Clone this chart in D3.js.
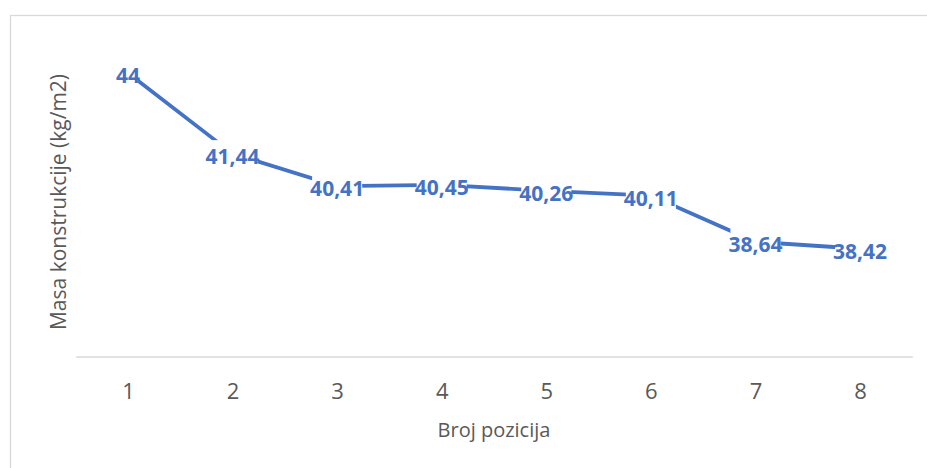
<!DOCTYPE html>
<html>
<head>
<meta charset="utf-8">
<script src="https://cdn.jsdelivr.net/npm/d3@7"></script>
<style>
  body { margin: 0; background: #fff; }
  svg { display: block; }
</style>
</head>
<body>
<svg id="chart"></svg>
<script>
// positions on the x axis
const categories = ["1", "2", "3", "4", "5", "6", "7", "8"];
// construction mass per position
const values = [44, 41.44, 40.41, 40.45, 40.26, 40.11, 38.64, 38.42];
const valueLabels = ["44", "41,44", "40,41", "40,45", "40,26", "40,11", "38,64", "38,42"];
const yDomain = [35, 45];

const width = 927, height = 468;
const plot = { left: 75.7, right: 912.3, top: 41.5, bottom: 356.5 };
const blue = "#4472C4", grey = "#595959", rule = "#D9D9D9";
const font = "'Open Sans', 'Noto Sans', sans-serif";

const svg = d3.select("#chart").attr("width", width).attr("height", height);

// outer chart border (runs off the right and bottom edges)
svg.append("rect")
  .attr("x", 10.5).attr("y", 15.5)
  .attr("width", 940).attr("height", 470)
  .attr("fill", "none").attr("stroke", rule).attr("stroke-width", 1.3);

const x = d3.scalePoint().domain(categories).range([plot.left, plot.right]).padding(0.5);
const y = d3.scaleLinear().domain(yDomain).range([plot.bottom, plot.top]);

// x axis: only the baseline and labels, no ticks
const xAxis = svg.append("g")
  .attr("transform", `translate(0, ${plot.bottom})`)
  .call(d3.axisBottom(x).tickSize(0).tickPadding(0));
xAxis.select(".domain").attr("stroke", rule).attr("stroke-width", 1.5);
xAxis.selectAll("text")
  .attr("dy", null)
  .attr("y", 42.5)
  .attr("fill", grey)
  .style("font-family", font)
  .style("font-size", "22px");

// axis titles
svg.append("text")
  .attr("x", (plot.left + plot.right) / 2)
  .attr("y", 437)
  .attr("text-anchor", "middle")
  .attr("fill", grey)
  .style("font-family", font)
  .style("font-size", "20px")
  .text("Broj pozicija");

svg.append("text")
  .attr("transform", `translate(66, ${(plot.top + plot.bottom) / 2 + 3}) rotate(-90)`)
  .attr("text-anchor", "middle")
  .attr("fill", grey)
  .style("font-family", font)
  .style("font-size", "21px")
  .text("Masa konstrukcije (kg/m2)");

// the series line
const line = d3.line()
  .x((d, i) => x(categories[i]))
  .y((d) => y(d));

svg.append("path")
  .datum(values)
  .attr("fill", "none")
  .attr("stroke", blue)
  .attr("stroke-width", 3.8)
  .attr("d", line);

// data labels sit just under the points with a white box behind them
const labelShift = 2.5;
const labels = svg.append("g")
  .selectAll("g")
  .data(values)
  .join("g")
  .attr("transform", (d, i) => `translate(${x(categories[i])}, ${y(d) + labelShift})`);

labels.append("rect").attr("fill", "#fff");
labels.append("text")
  .attr("text-anchor", "middle")
  .attr("dy", "0.357em")
  .attr("fill", blue)
  .style("font-family", font)
  .style("font-size", "21px")
  .style("font-weight", "bold")
  .text((d, i) => valueLabels[i]);

labels.each(function () {
  const g = d3.select(this);
  const w = g.select("text").node().getComputedTextLength();
  g.select("rect")
    .attr("x", -w / 2 + 2).attr("width", w - 4)
    .attr("y", -16).attr("height", 27);
});
</script>
</body>
</html>
